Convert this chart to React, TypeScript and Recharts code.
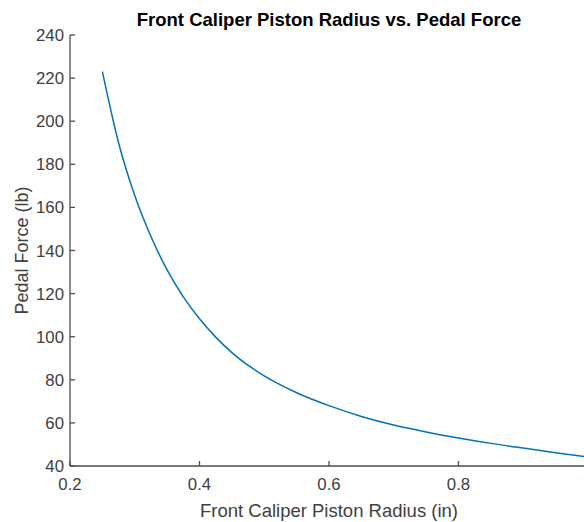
import React from "react";
import { LineChart, Line, XAxis, YAxis, Label } from "recharts";

const radius = [0.25, 0.275, 0.3, 0.325, 0.35, 0.375, 0.4, 0.425, 0.45, 0.5, 0.55, 0.6, 0.65, 0.7, 0.75, 0.8, 0.85, 0.9, 0.95, 1.0];
const pedalForce = [223, 190, 165.5, 146.5, 131, 118.5, 108.3, 99.8, 92.6, 81.8, 74, 68, 63, 59, 55.8, 53, 50.5, 48.3, 46.2, 44.2];

const xTicks = [0.2, 0.4, 0.6, 0.8, 1.0];
const yTicks = [40, 60, 80, 100, 120, 140, 160, 180, 200, 220, 240];

const data = radius.map((r, i) => ({ r, f: pedalForce[i] }));

const FONT = "'Liberation Sans', Arial, Helvetica, sans-serif";
const AXIS = "#4d4d4d";
const TEXT = "#404040";

const BottomTick = (props: any) => {
  const { x, y, payload } = props;
  return (
    <g>
      <line x1={x} y1={y} x2={x} y2={y - 5} stroke={AXIS} strokeWidth={1.3} />
      {/* the 1.0 label sits past the cropped right edge */}
      {payload.value < 1 && (
        <text x={x} y={y + 12} dy="0.71em" textAnchor="middle" fill={TEXT} fontSize={16.8} fontFamily={FONT}>
          {payload.value.toFixed(1)}
        </text>
      )}
    </g>
  );
};

const TopTick = (props: any) => {
  const { x, y } = props;
  return <line x1={x} y1={y} x2={x} y2={y + 5} stroke={AXIS} strokeWidth={1.3} />;
};

const LeftTick = (props: any) => {
  const { x, y, payload } = props;
  return (
    <g>
      <line x1={x} y1={y} x2={x + 5} y2={y} stroke={AXIS} strokeWidth={1.3} />
      <text x={x - 6} y={y} dy="0.36em" textAnchor="end" fill={TEXT} fontSize={16.8} fontFamily={FONT}>
        {payload.value}
      </text>
    </g>
  );
};

export default function App() {
  return (
    <div style={{ position: "absolute", left: 0, top: 0, width: 584, height: 522, overflow: "hidden", background: "#fff" }}>
      <div
        style={{
          position: "absolute",
          left: 70,
          width: 518,
          top: 8,
          textAlign: "center",
          fontFamily: FONT,
          fontWeight: "bold",
          fontSize: 18.5,
          color: "#000",
          lineHeight: "24px",
        }}
      >
        Front Caliper Piston Radius vs. Pedal Force
      </div>
      <LineChart width={600} height={522} data={data} margin={{ top: 35, right: 12, bottom: 0, left: 0 }}>
        <XAxis
          dataKey="r"
          type="number"
          domain={[0.2, 1]}
          ticks={xTicks}
          tickSize={0}
          tickMargin={0}
          tickLine={false}
          tick={<BottomTick />}
          height={56}
          stroke={AXIS}
          strokeWidth={1.3}
          interval={0}
          allowDataOverflow
        >
          <Label
            value="Front Caliper Piston Radius (in)"
            position="insideBottom"
            offset={5.5}
            style={{ fill: TEXT, fontSize: 18.5, fontFamily: FONT }}
          />
        </XAxis>
        <XAxis
          xAxisId="top"
          orientation="top"
          dataKey="r"
          type="number"
          domain={[0.2, 1]}
          ticks={xTicks}
          tickSize={0}
          tickMargin={0}
          tickLine={false}
          tick={<TopTick />}
          height={0}
          stroke={AXIS}
          strokeWidth={1.3}
          interval={0}
        />
        <YAxis
          type="number"
          domain={[40, 240]}
          ticks={yTicks}
          tickSize={0}
          tickMargin={0}
          tickLine={false}
          tick={<LeftTick />}
          width={70}
          stroke={AXIS}
          strokeWidth={1.3}
          interval={0}
        >
          <Label
            value="Pedal Force (lb)"
            angle={-90}
            position="insideLeft"
            offset={22}
            style={{ fill: TEXT, fontSize: 18, fontFamily: FONT, textAnchor: "middle" }}
          />
        </YAxis>
        <Line
          type="monotone"
          dataKey="f"
          stroke="#0072BD"
          strokeWidth={1.5}
          dot={false}
          isAnimationActive={false}
        />
      </LineChart>
    </div>
  );
}
